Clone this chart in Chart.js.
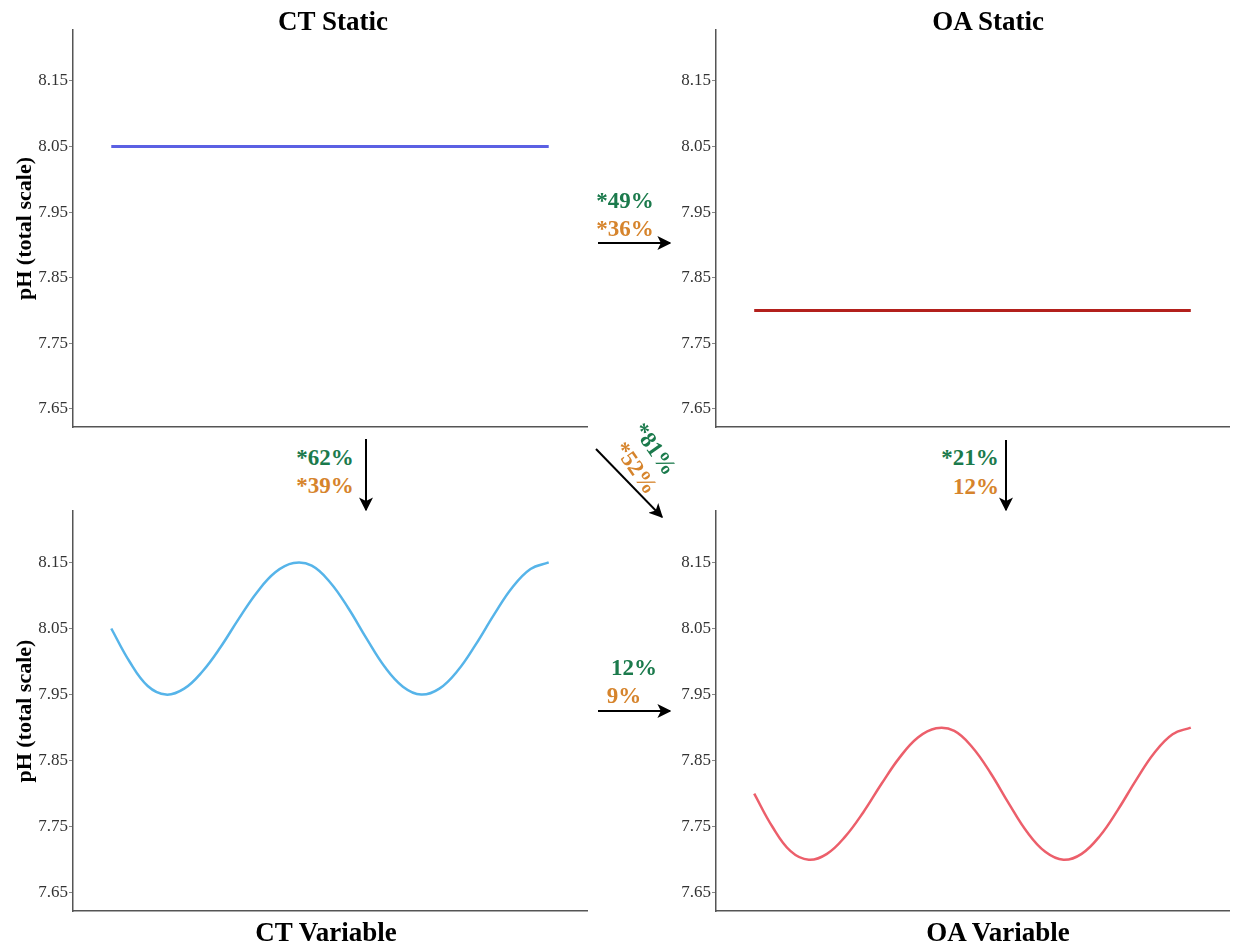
<!DOCTYPE html>
<html>
<head>
<meta charset="utf-8">
<script src="https://cdn.jsdelivr.net/npm/chart.js@4.4.1/dist/chart.umd.min.js"></script>
<style>
  html, body { margin: 0; padding: 0; background: #fff; }
  #wrap { position: relative; width: 1236px; height: 944px; overflow: hidden; }
  canvas { position: absolute; }
  .title, .ann {
    position: absolute; transform: translate(-50%, -50%);
    font-family: 'Liberation Serif', 'Times New Roman', serif; font-weight: bold;
    line-height: 1; white-space: nowrap;
  }
  .title { font-size: 27px; color: #000; }
  .ann { font-size: 23px; }
  .green { color: #1b7a4c; }
  .orange { color: #d6842c; }
  svg { position: absolute; left: 0; top: 0; }
</style>
</head>
<body>
<div id="wrap">
  <canvas id="ctStaticChart" width="600" height="440" style="left:0;top:0"></canvas>
  <canvas id="oaStaticChart" width="616" height="440" style="left:620px;top:0"></canvas>
  <canvas id="ctVariableChart" width="600" height="444" style="left:0;top:500px"></canvas>
  <canvas id="oaVariableChart" width="616" height="444" style="left:620px;top:500px"></canvas>

  <div class="title" style="left:333px;top:21px">CT Static</div>
  <div class="title" style="left:988px;top:21px">OA Static</div>
  <div class="title" style="left:326px;top:932px">CT Variable</div>
  <div class="title" style="left:998px;top:932px">OA Variable</div>

  <!-- percentages between panels -->
  <div class="ann green" style="left:625px;top:200px">*49%</div>
  <div class="ann orange" style="left:625px;top:228px">*36%</div>
  <div class="ann green" style="left:325px;top:457px">*62%</div>
  <div class="ann orange" style="left:325px;top:485px">*39%</div>
  <div class="ann green" style="left:970px;top:457px">*21%</div>
  <div class="ann orange" style="left:976px;top:486px">12%</div>
  <div class="ann green" style="left:634px;top:667px">12%</div>
  <div class="ann orange" style="left:624px;top:695px">9%</div>
  <div class="ann green" style="left:655px;top:449px;transform:translate(-50%,-50%) rotate(55deg)">*81%</div>
  <div class="ann orange" style="left:636px;top:468px;transform:translate(-50%,-50%) rotate(55deg)">*52%</div>

  <svg width="1236" height="944">
    <defs>
      <marker id="ah" viewBox="0 0 10 10" refX="9" refY="5" markerWidth="7" markerHeight="7" orient="auto">
        <path d="M0,0 L10,5 L0,10 L2.5,5 z" fill="#000"/>
      </marker>
    </defs>
    <g stroke="#000" stroke-width="2" marker-end="url(#ah)">
      <line x1="598" y1="243" x2="670" y2="243"/>
      <line x1="366" y1="439" x2="366" y2="510"/>
      <line x1="1006" y1="440" x2="1006" y2="510"/>
      <line x1="596" y1="449" x2="662" y2="517"/>
      <line x1="598" y1="711" x2="670" y2="711"/>
    </g>
  </svg>
</div>

<script>
// time axis (hours) and pH values
const hours = [0, 2, 4, 6, 8, 10, 12, 14, 16, 18, 20, 22, 24, 26, 28, 30, 32, 34, 36, 38, 40, 42, 44, 46, 48];
const staticHours = [0, 48];
const ctStatic = [8.05, 8.05];
const oaStatic = [7.80, 7.80];
const ctVariable = [8.050, 8.000, 7.963, 7.950, 7.959, 7.985, 8.022, 8.065, 8.105, 8.135, 8.149, 8.145, 8.120,
                    8.081, 8.035, 7.992, 7.962, 7.950, 7.959, 7.986, 8.026, 8.071, 8.112, 8.140, 8.150];
const oaVariable = [7.800, 7.750, 7.713, 7.700, 7.709, 7.735, 7.772, 7.815, 7.855, 7.885, 7.899, 7.895, 7.870,
                    7.831, 7.785, 7.742, 7.712, 7.700, 7.709, 7.736, 7.776, 7.821, 7.862, 7.890, 7.900];
const yTicks = [7.65, 7.75, 7.85, 7.95, 8.05, 8.15];

const serif = "'Liberation Serif', 'Times New Roman', serif";

function makePanel(id, xs, ys, color, width, opts) {
    const ctx = document.getElementById(id).getContext('2d');
    return new Chart(ctx, {
        type: 'line',
        data: {
            datasets: [{
                data: xs.map((h, i) => ({ x: h, y: ys[i] })),
                borderColor: color,
                borderWidth: width,
                pointRadius: 0,
                tension: 0.4,
                fill: false
            }]
        },
        options: {
            responsive: false,
            animation: false,
            layout: { padding: { top: opts.padTop, right: opts.padRight, bottom: 0, left: 0 } },
            plugins: {
                legend: { display: false },
                tooltip: { enabled: false }
            },
            scales: {
                x: {
                    type: 'linear',
                    min: -4.2,
                    max: 52.2,
                    ticks: { display: false },
                    grid: { display: false },
                    border: { display: true, color: '#555', width: 1.5 },
                    afterFit: s => { s.height = opts.xHeight; }
                },
                y: {
                    min: 7.6225,
                    max: 8.2275,
                    afterBuildTicks: s => { s.ticks = yTicks.map(v => ({ value: v })); },
                    afterFit: s => { s.width = opts.yWidth; },
                    ticks: {
                        color: '#333',
                        font: { family: serif, size: 17 },
                        padding: 1,
                        callback: v => v.toFixed(2)
                    },
                    grid: { display: true, drawOnChartArea: false, drawTicks: true, tickLength: 4, color: '#888' },
                    border: { display: true, color: '#555', width: 1.5 },
                    title: {
                        display: opts.yTitle,
                        text: 'pH (total scale)',
                        color: '#000',
                        font: { family: serif, size: 22, weight: 'bold' },
                        padding: { top: 12, bottom: 0 }
                    }
                }
            }
        }
    });
}

makePanel('ctStaticChart', staticHours, ctStatic, '#5b60e3', 3,
    { padTop: 30, padRight: 13, xHeight: 13, yWidth: 73, yTitle: true });
makePanel('oaStaticChart', staticHours, oaStatic, '#b3201c', 3,
    { padTop: 30, padRight: 7, xHeight: 13, yWidth: 96, yTitle: false });
makePanel('ctVariableChart', hours, ctVariable, '#56b4e9', 2.5,
    { padTop: 11, padRight: 13, xHeight: 33, yWidth: 73, yTitle: true });
makePanel('oaVariableChart', hours, oaVariable, '#ec5f6b', 2.5,
    { padTop: 11, padRight: 7, xHeight: 33, yWidth: 96, yTitle: false });
</script>
</body>
</html>
